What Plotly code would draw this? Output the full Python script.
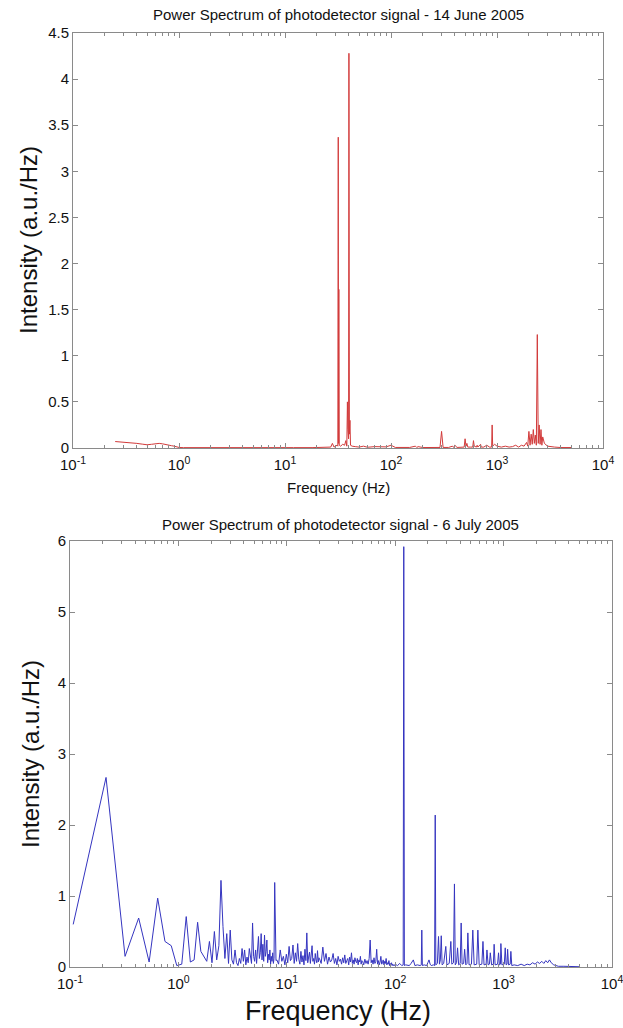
import plotly.graph_objects as go

# ---------------- 14 June 2005 spectrum (red) ----------------
june_freq_low = [0.25, 0.30, 0.35, 0.40, 0.45, 0.50, 0.55, 0.60, 0.65, 0.70,
                 0.75, 0.80, 0.85, 0.90, 0.95, 1.0, 1.1, 1.5, 2.0, 3.0,
                 5.0, 8.0, 12.0, 18.0, 25.0]
june_int_low = [0.070, 0.065, 0.058, 0.050, 0.042, 0.035, 0.040, 0.045, 0.050, 0.045,
                0.035, 0.030, 0.025, 0.020, 0.012, 0.006, 0.004, 0.003, 0.003, 0.003,
                0.003, 0.003, 0.004, 0.004, 0.006]

june_freq_mid = [27.0, 28.0, 29.0, 30.0, 31.0, 31.5, 31.8, 32.0, 32.2, 32.5,
                 33.5, 35.0, 36.5, 37.5, 38.3, 38.8, 39.2, 39.5, 39.8, 40.1,
                 40.5, 41.0, 41.5, 43.0, 46.0, 50.0, 55.0, 60.0, 70.0, 80.0,
                 90.0, 100.0, 110.0]
june_int_mid = [0.010, 0.050, 0.010, 0.020, 0.030, 0.020, 3.370, 0.050, 1.720, 0.030,
                0.020, 0.040, 0.030, 0.080, 0.020, 0.500, 0.200, 2.170, 0.100, 4.280,
                0.150, 0.300, 0.030, 0.020, 0.015, 0.010, 0.020, 0.008, 0.015, 0.010,
                0.012, 0.030, 0.006]

june_freq_high = [150, 170, 175, 180, 200, 250, 290, 300, 310, 350,
                  380, 390, 400, 420, 450, 490, 500, 510, 520, 530,
                  560, 590, 600, 610, 640, 650, 660, 700, 710, 750,
                  800, 850, 890, 900, 910, 950, 1000, 1100, 1200, 1300,
                  1400, 1500, 1600, 1700, 1800, 1900, 1950, 2000, 2050, 2100,
                  2150, 2200, 2250, 2300, 2350, 2400, 2450, 2500, 2550, 2600,
                  2650, 2700, 2800, 3000, 3500, 4000, 5000]
june_int_high = [0.006, 0.020, 0.005, 0.015, 0.005, 0.005, 0.006, 0.180, 0.006, 0.006,
                 0.020, 0.006, 0.030, 0.006, 0.010, 0.010, 0.100, 0.020, 0.050, 0.010,
                 0.010, 0.010, 0.080, 0.020, 0.010, 0.030, 0.010, 0.040, 0.010, 0.010,
                 0.030, 0.010, 0.010, 0.250, 0.020, 0.040, 0.020, 0.010, 0.020, 0.010,
                 0.015, 0.030, 0.010, 0.030, 0.020, 0.060, 0.020, 0.180, 0.030, 0.150,
                 0.040, 0.200, 0.050, 0.140, 0.030, 1.230, 0.050, 0.250, 0.040, 0.200,
                 0.030, 0.120, 0.050, 0.020, 0.010, 0.005, 0.005]

# ---------------- 6 July 2005 spectrum (blue) ----------------
july_freq_low = [0.107, 0.215, 0.322, 0.430, 0.537, 0.644, 0.752, 0.859, 0.966, 1.074,
                 1.181, 1.289, 1.396, 1.504, 1.611, 1.718, 1.826, 1.933, 2.041, 2.148,
                 2.256, 2.363, 2.470, 2.578, 2.685, 2.793, 2.900, 3.007, 3.115, 3.222,
                 3.330, 3.437, 3.544, 3.652, 3.759, 3.867, 3.974, 4.082, 4.189, 4.296,
                 4.404, 4.511, 4.619, 4.726, 4.833, 4.941, 5.048, 5.156, 5.263, 5.370,
                 5.478, 5.585, 5.693, 5.800, 5.908, 6.015, 6.122, 6.230, 6.337, 6.445,
                 6.552, 6.659, 6.767, 6.874, 6.982, 7.089, 7.196, 7.304, 7.411, 7.519,
                 7.626, 7.733, 7.841, 7.948]
july_int_low = [0.60, 2.67, 0.15, 0.69, 0.07, 0.97, 0.36, 0.30, 0.02, 0.04,
                0.71, 0.07, 0.10, 0.63, 0.22, 0.15, 0.08, 0.36, 0.06, 0.50,
                0.10, 0.30, 1.22, 0.57, 0.12, 0.47, 0.05, 0.52, 0.10, 0.04,
                0.24, 0.06, 0.02, 0.12, 0.05, 0.26, 0.08, 0.24, 0.03, 0.14,
                0.06, 0.26, 0.10, 0.05, 0.62, 0.15, 0.08, 0.24, 0.05, 0.30,
                0.43, 0.12, 0.20, 0.47, 0.10, 0.32, 0.08, 0.45, 0.15, 0.22,
                0.38, 0.06, 0.18, 0.10, 0.24, 0.04, 0.15, 0.08, 0.20, 0.05,
                0.12, 1.19, 0.15, 0.09]

july_freq_a = [8.1, 8.4, 8.7, 9.0, 9.3, 9.6, 9.9, 10.2, 10.5, 10.8,
               11.1, 11.4, 11.7, 12.0, 12.3, 12.6, 12.9, 13.2, 13.5, 13.8,
               14.1, 14.4, 14.7, 15.0, 15.3, 15.6, 15.9, 16.2, 16.5, 16.8,
               17.1, 17.4, 17.7, 18.0, 18.3, 18.6, 18.9, 19.2, 19.5, 19.8]
july_int_a = [0.10, 0.04, 0.24, 0.08, 0.15, 0.03, 0.18, 0.06, 0.29, 0.09,
              0.12, 0.31, 0.05, 0.20, 0.08, 0.33, 0.11, 0.04, 0.22, 0.07,
              0.16, 0.03, 0.25, 0.09, 0.48, 0.06, 0.14, 0.21, 0.05, 0.17,
              0.30, 0.08, 0.12, 0.04, 0.19, 0.10, 0.06, 0.23, 0.07, 0.13]

july_freq_b = [20.0, 20.75, 21.5, 22.25, 23.0, 23.75, 24.5, 25.25, 26.0, 26.75,
               27.5, 28.25, 29.0, 29.75, 30.5, 31.25, 32.0, 32.75, 33.5, 34.25,
               35.0, 35.75, 36.5, 37.25, 38.0, 38.75, 39.5, 40.25, 41.0, 41.75,
               42.5, 43.25, 44.0, 44.75, 45.5, 46.25, 47.0, 47.75, 48.5, 49.25]
july_int_b = [0.12, 0.05, 0.28, 0.08, 0.19, 0.04, 0.14, 0.07, 0.10, 0.19,
              0.05, 0.12, 0.03, 0.15, 0.08, 0.11, 0.04, 0.13, 0.06, 0.17,
              0.05, 0.09, 0.12, 0.03, 0.14, 0.07, 0.20, 0.05, 0.10, 0.04,
              0.13, 0.08, 0.06, 0.12, 0.03, 0.10, 0.07, 0.15, 0.04, 0.09]

july_freq_c = [50.0, 51.25, 52.5, 53.75, 55.0, 56.25, 57.5, 58.75, 60.0, 61.25,
               62.5, 63.75, 65.0, 66.25, 67.5, 68.75, 70.0, 71.25, 72.5, 73.75,
               75.0, 76.25, 77.5, 78.75, 80.0, 81.25, 82.5, 83.75, 85.0, 86.25,
               87.5, 88.75, 90.0, 91.25, 92.5, 93.75, 95.0, 96.25, 97.5, 98.75]
july_int_c = [0.08, 0.03, 0.11, 0.05, 0.09, 0.04, 0.12, 0.38, 0.06, 0.10,
              0.04, 0.13, 0.05, 0.08, 0.25, 0.04, 0.09, 0.03, 0.07, 0.15,
              0.04, 0.06, 0.10, 0.03, 0.08, 0.05, 0.12, 0.03, 0.06, 0.04,
              0.09, 0.02, 0.05, 0.03, 0.06, 0.02, 0.04, 0.02, 0.03, 0.02]

july_freq_high = [100, 105, 110, 115, 118.5, 120, 121.5, 125, 135, 140,
                  147, 152, 160, 170, 174, 176, 178, 185, 195, 200,
                  205, 210, 215, 225, 231, 234, 237, 245, 251, 256,
                  261, 266, 271, 280, 293, 300, 315, 326, 333, 345,
                  352, 358, 368, 376, 385, 398, 406, 414, 428, 437,
                  448, 460, 468, 480, 505, 520, 535, 565, 579, 595,
                  630, 645, 660, 690, 702, 720, 740, 754, 775, 805,
                  818, 835, 880, 898, 915, 935, 944, 965, 1015, 1035,
                  1055, 1075, 1089, 1110, 1150, 1167, 1190, 1250, 1350, 1450,
                  1550, 1650, 1750, 1850, 1950, 2050, 2150, 2250, 2350, 2450,
                  2550, 2650, 2750, 2900, 3200, 3600, 4000, 4500, 5000]
july_int_high = [0.04, 0.02, 0.05, 0.02, 0.03, 5.92, 0.02, 0.03, 0.02, 0.05,
                 0.10, 0.02, 0.03, 0.02, 0.03, 0.52, 0.02, 0.03, 0.02, 0.06,
                 0.10, 0.04, 0.02, 0.03, 0.02, 2.14, 0.03, 0.05, 0.43, 0.04,
                 0.10, 0.44, 0.03, 0.05, 0.29, 0.03, 0.05, 0.36, 0.04, 0.06,
                 1.17, 0.03, 0.06, 0.27, 0.03, 0.05, 0.62, 0.04, 0.05, 0.25,
                 0.03, 0.05, 0.48, 0.03, 0.04, 0.52, 0.03, 0.04, 0.52, 0.03,
                 0.04, 0.36, 0.03, 0.04, 0.24, 0.03, 0.04, 0.20, 0.03, 0.04,
                 0.32, 0.03, 0.04, 0.20, 0.03, 0.04, 0.33, 0.03, 0.04, 0.27,
                 0.03, 0.04, 0.25, 0.03, 0.04, 0.22, 0.02, 0.03, 0.02, 0.04,
                 0.02, 0.04, 0.03, 0.06, 0.04, 0.07, 0.05, 0.08, 0.05, 0.09,
                 0.06, 0.10, 0.06, 0.03, 0.01, 0.01, 0.008, 0.005, 0.004]

june_freq = june_freq_low + june_freq_mid + june_freq_high
june_int = june_int_low + june_int_mid + june_int_high
july_freq = july_freq_low + july_freq_a + july_freq_b + july_freq_c + july_freq_high
july_int = july_int_low + july_int_a + july_int_b + july_int_c + july_int_high
assert len(june_freq) == len(june_int)
assert len(july_freq) == len(july_int)

titles = ["Power Spectrum of photodetector signal - 14 June 2005",
          "Power Spectrum of photodetector signal - 6 July 2005"]
x_label = "Frequency (Hz)"
y_label = "Intensity (a.u./Hz)"
decade_vals = [0.1, 1, 10, 100, 1000, 10000]
decade_text = ["10<sup>-1</sup>", "10<sup>0</sup>", "10<sup>1</sup>",
               "10<sup>2</sup>", "10<sup>3</sup>", "10<sup>4</sup>"]
minor_vals = [m * d for d in [0.1, 1, 10, 100, 1000] for m in range(2, 10)]

W, H = 623, 1028
FONT = "Liberation Sans, Arial, sans-serif"
AXIS_GRAY = "#8a8a8a"


def px(x):
    return x / W


def py(y):
    return 1 - y / H


fig = go.Figure()
fig.add_trace(go.Scatter(x=june_freq, y=june_int, mode="lines",
                         line=dict(color="#d23a3a", width=1),
                         xaxis="x", yaxis="y", showlegend=False))
fig.add_trace(go.Scatter(x=july_freq, y=july_int, mode="lines",
                         line=dict(color="#3535c0", width=1),
                         xaxis="x2", yaxis="y2", showlegend=False))

xcommon = dict(type="log", range=[-1, 4], tickmode="array",
               tickvals=decade_vals, ticktext=decade_text,
               ticks="inside", ticklen=5, tickcolor=AXIS_GRAY,
               showline=True, linecolor=AXIS_GRAY, linewidth=1, mirror="ticks",
               showgrid=False, zeroline=False, automargin=False,
               ticklabelstandoff=3, ticklabeloverflow="allow",
               tickfont=dict(family=FONT, size=15, color="#111"),
               minor=dict(tickmode="array", tickvals=minor_vals, ticks="inside",
                          ticklen=3, tickcolor=AXIS_GRAY, showgrid=False))
ycommon = dict(ticks="inside", ticklen=5, tickcolor=AXIS_GRAY,
               showline=True, linecolor=AXIS_GRAY, linewidth=1, mirror="ticks",
               showgrid=False, zeroline=False, automargin=False,
               ticklabeloverflow="allow",
               tickfont=dict(family=FONT, size=15, color="#111"))

fig.update_layout(
    width=W, height=H,
    margin=dict(l=0, r=0, t=0, b=0, autoexpand=False),
    paper_bgcolor="white", plot_bgcolor="white",
    xaxis=dict(xcommon, domain=[px(73), px(603)], anchor="y"),
    yaxis=dict(ycommon, domain=[py(448), py(33)], anchor="x",
               range=[0, 4.5], tickvals=[0, 0.5, 1, 1.5, 2, 2.5, 3, 3.5, 4, 4.5],
               ticktext=["0", "0.5", "1", "1.5", "2", "2.5", "3", "3.5", "4", "4.5"]),
    xaxis2=dict(xcommon, domain=[px(70), px(612)], anchor="y2"),
    yaxis2=dict(ycommon, domain=[py(967), py(541)], anchor="x2",
                range=[0, 6], tickvals=[0, 1, 2, 3, 4, 5, 6]),
)

annos = [
    (titles[0], 338, 15, 15, 0),
    (x_label, 338, 487, 15, 0),
    (y_label, 28, 240, 24, -90),
    (titles[1], 340, 524, 15, 0),
    (x_label, 338, 1011, 27, 0),
    (y_label, 30, 754, 24, -90),
]
for text, x, y, size, ang in annos:
    fig.add_annotation(text=text, x=px(x), y=py(y), xref="paper", yref="paper",
                       xanchor="center", yanchor="middle", showarrow=False,
                       textangle=ang, font=dict(family=FONT, size=size, color="#111"))

fig.write_html("out.html")
